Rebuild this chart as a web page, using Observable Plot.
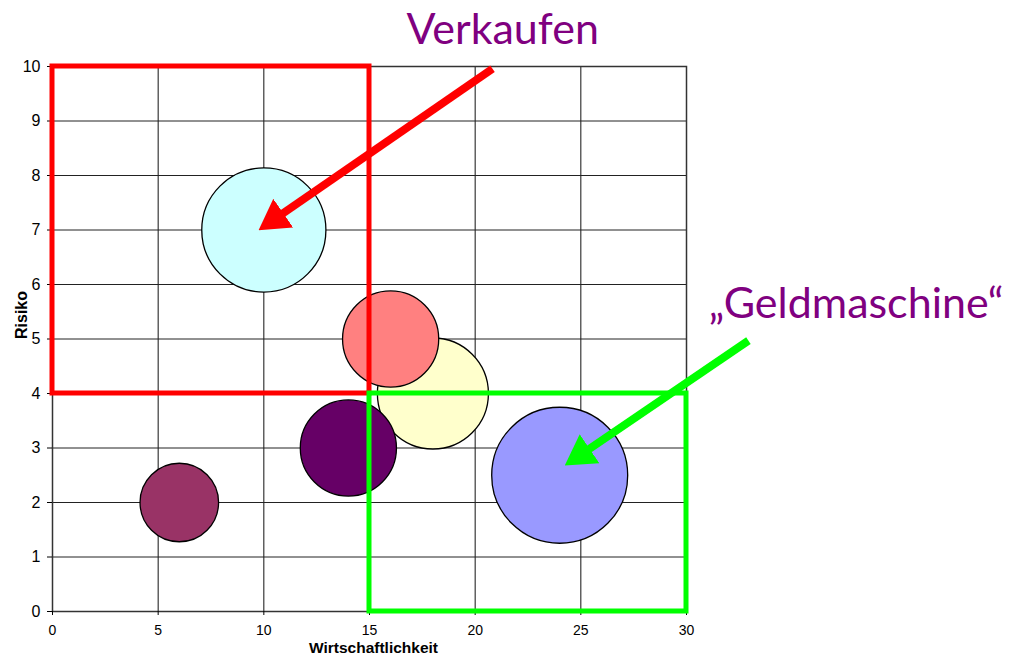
<!DOCTYPE html>
<html>
<head>
<meta charset="utf-8">
<script src="https://cdn.jsdelivr.net/npm/d3@7"></script>
<script src="https://cdn.jsdelivr.net/npm/@observablehq/plot@0.6"></script>
<style>
  html, body { margin: 0; padding: 0; background: #fff; }
</style>
</head>
<body>
<div id="chart"></div>
<script>
// ---- data ----
const xTicks = [0, 5, 10, 15, 20, 25, 30];
const yTicks = [0, 1, 2, 3, 4, 5, 6, 7, 8, 9, 10];

const bubbleX     = [10, 18, 16, 14, 6, 24];
const bubbleY     = [7, 4, 5, 3, 2, 2.5];
const bubbleSize  = [25, 20, 15, 15, 10, 30];
const bubbleColor = ["#CCFFFF", "#FFFFCC", "#FF8080", "#660066", "#993366", "#9999FF"];

const zoneX1 = [0, 15];
const zoneX2 = [15, 30];
const zoneY1 = [4, 0];
const zoneY2 = [10, 4];
const zoneColor = ["#FF0000", "#00FF00"];

const arrowX1 = [20.82, 32.93];
const arrowY1 = [9.96, 4.97];
const arrowX2 = [10.14, 24.63];
const arrowY2 = [7.10, 2.78];
const arrowColor = ["#FF0000", "#00FF00"];

const sellText = "Verkaufen";
const sellX = 21.3, sellY = 10.42;
const cashText = "\u201EGeldmaschine\u201C";
const cashX = 31.05, cashY = 5.38;

const xLabel = "Wirtschaftlichkeit";
const yLabel = "Risiko";

// ---- tables ----
const bubbles = bubbleX.map((x, i) => ({x, y: bubbleY[i], size: bubbleSize[i], color: bubbleColor[i]}));
const zones = zoneX1.map((x1, i) => ({x1, x2: zoneX2[i], y1: zoneY1[i], y2: zoneY2[i], color: zoneColor[i]}));
const arrows = arrowX1.map((x1, i) => ({x1, y1: arrowY1[i], x2: arrowX2[i], y2: arrowY2[i], color: arrowColor[i]}));

function filledHead(color) {
  const m = d3.create("svg:marker")
    .attr("viewBox", "0 -17.5 30 35")
    .attr("markerUnits", "userSpaceOnUse")
    .attr("markerWidth", 30)
    .attr("markerHeight", 35)
    .attr("refX", 20)
    .attr("refY", 0)
    .attr("orient", "auto");
  m.append("path").attr("d", "M0,-17.5L30,0L0,17.5Z").attr("fill", color).attr("stroke", "none");
  return m.node();
}

const noteFont = "Lato, 'Open Sans', sans-serif";

const plot = Plot.plot({
  width: 1025,
  height: 658,
  marginLeft: 52,
  marginRight: 339,
  marginTop: 66,
  marginBottom: 47,
  x: {domain: [0, 30], label: null},
  y: {domain: [0, 10], label: null},
  r: {domain: [0, 30], range: [0, 68]},
  color: {type: "identity"},
  style: {fontFamily: "'Liberation Sans', Arial, sans-serif", fontSize: "15px", background: "#fff", color: "#000"},
  marks: [
    Plot.gridX(xTicks, {stroke: "#111", strokeOpacity: 1, strokeWidth: 1}),
    Plot.gridY(yTicks, {stroke: "#222", strokeOpacity: 1, strokeWidth: 1}),
    Plot.frame({stroke: "#333", strokeWidth: 1.5}),
    Plot.axisX(xTicks, {tickSize: 4, tickPadding: 10, fontSize: 14, label: null, tickFormat: d => String(d)}),
    Plot.axisY(yTicks, {tickSize: 5, tickPadding: 7, fontSize: 16, label: null, tickFormat: d => String(d)}),
    Plot.dot(bubbles, {x: "x", y: "y", r: "size", fill: "color", stroke: "#000", strokeWidth: 1.3, sort: null}),
    Plot.rect(zones, {x1: "x1", x2: "x2", y1: "y1", y2: "y2", fill: "none", stroke: "color", strokeWidth: 5}),
    Plot.link(arrows, {x1: "x1", y1: "y1", x2: "x2", y2: "y2", stroke: "color", strokeWidth: 8, markerEnd: filledHead}),
    Plot.text([sellText], {x: () => sellX, y: () => sellY, textAnchor: "middle", lineAnchor: "bottom", fill: "#800080", fontSize: 43, fontFamily: noteFont}),
    Plot.text([cashText], {x: () => cashX, y: () => cashY, textAnchor: "start", lineAnchor: "bottom", fill: "#800080", fontSize: 43, fontFamily: noteFont, letterSpacing: 1.2}),
    Plot.text([xLabel], {frameAnchor: "bottom", dx: 4, dy: 41, fontWeight: "bold", fontSize: 15.5}),
    Plot.text([yLabel], {frameAnchor: "left", dx: -31, rotate: -90, fontWeight: "bold", fontSize: 16})
  ]
});

document.getElementById("chart").appendChild(plot);
</script>
</body>
</html>
